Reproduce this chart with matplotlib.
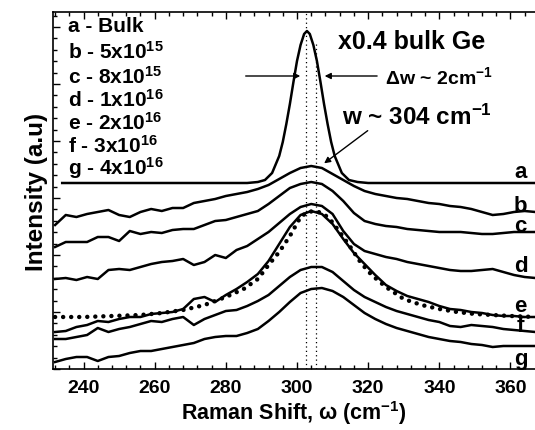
import numpy as np
import matplotlib
matplotlib.use("Agg")
import matplotlib.pyplot as plt
from matplotlib.ticker import MultipleLocator

# Fonts
plt.rcParams["font.family"] = ["Liberation Sans", "DejaVu Sans"]
plt.rcParams["font.weight"] = "bold"
plt.rcParams["mathtext.fontset"] = "custom"
plt.rcParams["mathtext.rm"] = "Liberation Sans:bold"
plt.rcParams["mathtext.bf"] = "Liberation Sans:bold"
plt.rcParams["mathtext.default"] = "bf"

# Data (Raman shift in cm-1, intensity in arbitrary units)
shift = [232, 235, 238, 241, 244, 247, 250, 253, 256, 259, 262, 265, 268, 271, 274, 277,
         280, 283, 286, 289, 292, 295, 298, 301, 304, 307, 310, 313, 316, 319, 322, 325,
         328, 331, 334, 337, 340, 343, 346, 349, 352, 355, 358, 361, 364, 367]

bulk_shift = [234, 280, 286, 289, 291, 293, 295, 296, 297, 298, 299, 300, 301, 302, 302.8,
              303.6, 304.6, 305.6, 306.6, 307.6, 308.6, 309.6, 310.6, 312.6, 314.6, 317, 320, 367]
bulk = [186, 186, 186, 187, 189, 196, 213, 227, 245, 265, 287, 308, 324, 335, 338,
        335, 324, 308, 287, 265, 245, 227, 213, 196, 189, 187, 186, 186]

dose_b = [144, 154, 152, 155, 157, 159, 154, 152, 157, 160, 158, 161, 161, 166, 168, 170,
          173, 175, 177, 180, 184, 190, 196, 201, 203, 201, 195, 189, 183, 178, 175, 173,
          171, 170, 168, 166, 165, 163, 162, 160, 157, 154, 155, 157, 158, 157]
dose_c = [122, 127, 127, 127, 132, 132, 128, 138, 135, 137, 136, 139, 140, 140, 144, 148,
          149, 152, 155, 158, 165, 173, 181, 185, 187, 185, 178, 168, 156, 148, 145, 143,
          142, 140, 139, 138, 137, 137, 137, 136, 135, 135, 136, 137, 137, 137]
dose_d = [90, 91, 89, 92, 90, 99, 100, 99, 102, 105, 107, 108, 110, 104, 107, 114,
          111, 119, 123, 130, 137, 146, 155, 162, 165, 163, 155, 138, 125, 118, 115, 112,
          110, 107, 105, 103, 101, 99, 98, 98, 99, 100, 97, 94, 92, 91]
dose_e = [37, 38, 42, 44, 48, 47, 50, 52, 52, 55, 56, 57, 60, 70, 72, 67,
          74, 80, 87, 95, 108, 125, 142, 154, 158, 155, 145, 130, 116, 105, 94, 84,
          78, 73, 70, 67, 63, 60, 59, 57, 56, 54, 53, 53, 52, 52]
dose_f = [30, 30, 32, 34, 41, 37, 40, 42, 45, 48, 47, 50, 52, 44, 50, 54,
          58, 59, 63, 68, 74, 83, 92, 99, 102, 102, 97, 88, 79, 72, 67, 62,
          58, 55, 52, 49, 47, 43, 42, 44, 43, 42, 40, 39, 38, 37]
dose_g = [7, 10, 12, 12, 8, 12, 13, 16, 18, 18, 20, 22, 24, 26, 30, 32,
          33, 33, 36, 40, 48, 57, 67, 76, 80, 81, 78, 72, 64, 56, 50, 45,
          41, 38, 35, 32, 30, 28, 27, 25, 24, 22, 23, 23, 23, 23]

fit_shift = [232, 240, 248, 256, 262, 268, 274, 280, 285, 289, 292, 295, 298, 301, 303, 305,
             307, 309, 312, 315, 318, 321, 325, 330, 335, 340, 345, 350, 355, 360, 367]
fit_e = [52, 52, 53, 54, 56, 59, 64, 72, 80, 90, 104, 117, 133, 152, 157, 158,
         156, 151, 137, 122, 106, 94, 82, 70, 64, 60, 57, 55, 54, 53, 52]

curve_labels = ["a", "b", "c", "d", "e", "f", "g"]
curve_label_y = [197, 163, 143, 103, 63, 43, 10]
legend_lines = ["a - Bulk", "b - 5x10$^{15}$", "c - 8x10$^{15}$", "d - 1x10$^{16}$",
                "e - 2x10$^{16}$", "f - 3x10$^{16}$", "g - 4x10$^{16}$"]
legend_y = [343, 318, 293, 270, 247, 224, 202]
peak_marks = [302.4, 305.25]
peak_mark_top = [357, 327]

# Figure
fig = plt.figure(figsize=(5.35, 4.31), dpi=100)
ax = fig.add_axes([53.3 / 535, 61 / 431, 1 - 53.3 / 535, 357 / 431])

ax.plot(bulk_shift, bulk, color="black", lw=1.8)
for series in [dose_b, dose_c, dose_d, dose_e, dose_f, dose_g]:
    ax.plot(shift, series, color="black", lw=1.8)
ax.plot(fit_shift, fit_e, color="black", lw=3.2, linestyle=(0, (0.01, 1.8)),
        dash_capstyle="round")

for xm, top in zip(peak_marks, peak_mark_top):
    ax.plot([xm, xm], [0, top], color="black", lw=0.9, linestyle=(0, (1, 2.5)))

# Text annotations
for text, y in zip(legend_lines, legend_y):
    ax.text(235.7, y, text, fontsize=15, fontweight="bold", ha="left", va="center")
for text, y in zip(curve_labels, curve_label_y):
    ax.text(362.9, y, text, fontsize=16, fontweight="bold", ha="center", va="center")

ax.text(311.5, 328, "x0.4 bulk Ge", fontsize=18, fontweight="bold", va="center")
ax.text(324.7, 293, "Δw ~ 2cm$^{-1}$", fontsize=14, fontweight="bold", va="center")
ax.text(312.6, 253, "w ~ 304 cm$^{-1}$", fontsize=17.5, fontweight="bold", va="center")

arrow = dict(arrowstyle="-|>", color="black", lw=1.0, mutation_scale=9)
ax.annotate("", xy=(301.7, 293), xytext=(284.8, 293), arrowprops=arrow)
ax.annotate("", xy=(307.0, 293), xytext=(323.3, 293), arrowprops=arrow)
ax.annotate("", xy=(307.0, 204), xytext=(320.5, 240), arrowprops=arrow)

# Axes formatting
ax.set_xlim(231.5, 366.9)
ax.set_ylim(0, 357)
ax.xaxis.set_major_locator(MultipleLocator(20))
ax.xaxis.set_minor_locator(MultipleLocator(4))
ax.yaxis.set_major_locator(MultipleLocator(57))
ax.yaxis.set_minor_locator(MultipleLocator(11.4))
ax.tick_params(which="both", direction="in", top=True, right=False, labelleft=False,
               width=1.0, labelsize=14, pad=7)
ax.tick_params(which="major", length=5)
ax.tick_params(which="minor", length=3)
for label in ax.get_xticklabels():
    label.set_fontweight("bold")
ax.spines["right"].set_visible(False)
for side in ["left", "bottom", "top"]:
    ax.spines[side].set_linewidth(1.2)

ax.set_xlabel("Raman Shift, ω (cm$^{-1}$)", fontsize=15.5, fontweight="bold", labelpad=2)
ax.set_ylabel("Intensity (a.u)", fontsize=17.5, fontweight="bold", labelpad=4)

fig.savefig("out.png", dpi=100)
